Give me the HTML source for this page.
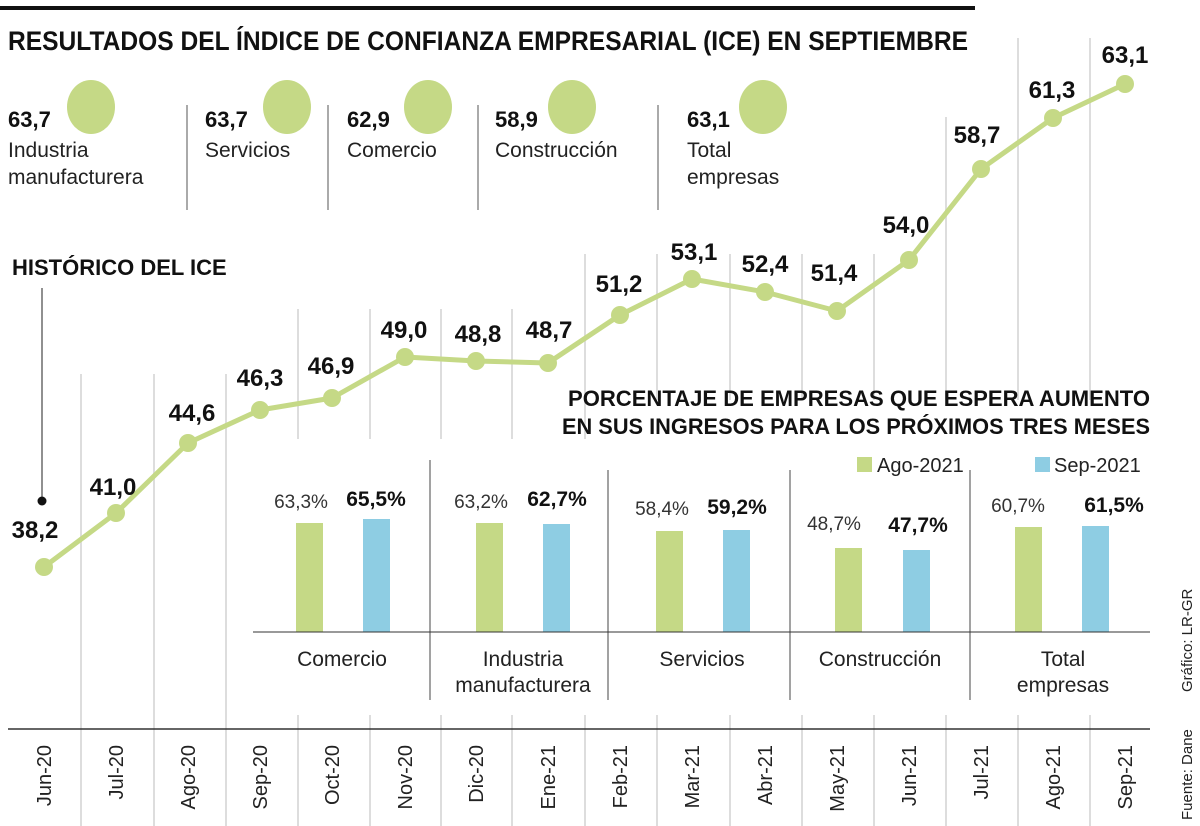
<!DOCTYPE html>
<html><head><meta charset="utf-8"><style>
body{margin:0;background:#fff}
svg{display:block}
text{font-family:"Liberation Sans",sans-serif}
.b{font-weight:bold}
</style></head><body>
<svg width="1200" height="826" viewBox="0 0 1200 826" xmlns="http://www.w3.org/2000/svg">
<rect width="1200" height="826" fill="#fff"/>
<line x1="0" y1="8" x2="975" y2="8" stroke="#111" stroke-width="4"/>
<text x="8" y="50" class="b" font-size="27" textLength="960" lengthAdjust="spacingAndGlyphs" fill="#111">RESULTADOS DEL ÍNDICE DE CONFIANZA EMPRESARIAL (ICE) EN SEPTIEMBRE</text>
<g stroke="#ddd" stroke-width="2">
<line x1="81" y1="374" x2="81" y2="826"/><line x1="154" y1="374" x2="154" y2="826"/><line x1="226" y1="374" x2="226" y2="826"/>
<line x1="298" y1="309" x2="298" y2="439"/><line x1="370" y1="309" x2="370" y2="439"/><line x1="441" y1="309" x2="441" y2="439"/><line x1="512" y1="309" x2="512" y2="439"/>
<line x1="585" y1="254" x2="585" y2="439"/>
<line x1="657" y1="254" x2="657" y2="400"/><line x1="730" y1="254" x2="730" y2="400"/><line x1="802" y1="254" x2="802" y2="400"/><line x1="874" y1="254" x2="874" y2="400"/>
<line x1="946" y1="117" x2="946" y2="400"/><line x1="1018" y1="38" x2="1018" y2="400"/><line x1="1090" y1="38" x2="1090" y2="400"/>
<line x1="298" y1="715" x2="298" y2="826"/><line x1="370" y1="715" x2="370" y2="826"/><line x1="441" y1="715" x2="441" y2="826"/><line x1="512" y1="715" x2="512" y2="826"/><line x1="585" y1="715" x2="585" y2="826"/><line x1="657" y1="715" x2="657" y2="826"/><line x1="730" y1="715" x2="730" y2="826"/><line x1="802" y1="715" x2="802" y2="826"/><line x1="874" y1="715" x2="874" y2="826"/><line x1="946" y1="715" x2="946" y2="826"/><line x1="1018" y1="715" x2="1018" y2="826"/><line x1="1090" y1="715" x2="1090" y2="826"/>
</g>
<g stroke="#555" stroke-width="1"><line x1="187" y1="105" x2="187" y2="210"/><line x1="328" y1="105" x2="328" y2="210"/><line x1="478" y1="105" x2="478" y2="210"/><line x1="658" y1="105" x2="658" y2="210"/></g>
<g fill="#c5d986"><ellipse cx="91" cy="107" rx="24" ry="27"/><ellipse cx="287" cy="107" rx="24" ry="27"/><ellipse cx="428" cy="107" rx="24" ry="27"/><ellipse cx="572" cy="107" rx="24" ry="27"/><ellipse cx="763" cy="107" rx="24" ry="27"/></g>
<g class="b" font-size="22" fill="#111"><text x="8" y="127">63,7</text><text x="205" y="127">63,7</text><text x="347" y="127">62,9</text><text x="495" y="127">58,9</text><text x="687" y="127">63,1</text></g>
<g font-size="21" fill="#222"><text x="8" y="157">Industria</text><text x="8" y="184">manufacturera</text><text x="205" y="157">Servicios</text><text x="347" y="157">Comercio</text><text x="495" y="157">Construcción</text><text x="687" y="157">Total</text><text x="687" y="184">empresas</text></g>
<text x="12" y="275" class="b" font-size="22" fill="#111">HISTÓRICO DEL ICE</text>
<line x1="42" y1="288" x2="42" y2="500" stroke="#222" stroke-width="1"/>
<circle cx="42" cy="501" r="4.5" fill="#111"/>
<polyline fill="none" stroke="#c5d986" stroke-width="5" stroke-linejoin="round" points="44,567 116,513 188,443 260,410 332,398 405,357 476,361 548,363 620,315 692,279 765,292 837,311 909,260 981,169 1053,118 1125,84"/>
<g fill="#c5d986"><circle cx="44" cy="567" r="9"/><circle cx="116" cy="513" r="9"/><circle cx="188" cy="443" r="9"/><circle cx="260" cy="410" r="9"/><circle cx="332" cy="398" r="9"/><circle cx="405" cy="357" r="9"/><circle cx="476" cy="361" r="9"/><circle cx="548" cy="363" r="9"/><circle cx="620" cy="315" r="9"/><circle cx="692" cy="279" r="9"/><circle cx="765" cy="292" r="9"/><circle cx="837" cy="311" r="9"/><circle cx="909" cy="260" r="9"/><circle cx="981" cy="169" r="9"/><circle cx="1053" cy="118" r="9"/><circle cx="1125" cy="84" r="9"/></g>
<g class="b" font-size="24" fill="#111" text-anchor="middle">
<text x="35" y="538">38,2</text><text x="113" y="495">41,0</text><text x="192" y="421">44,6</text><text x="260" y="386">46,3</text><text x="331" y="374">46,9</text><text x="404" y="338">49,0</text><text x="478" y="342">48,8</text><text x="549" y="338">48,7</text><text x="619" y="292">51,2</text><text x="694" y="260">53,1</text><text x="765" y="272">52,4</text><text x="834" y="281">51,4</text><text x="906" y="233">54,0</text><text x="977" y="143">58,7</text><text x="1052" y="98">61,3</text><text x="1125" y="63">63,1</text>
</g>
<text x="1150" y="406" text-anchor="end" class="b" font-size="22" textLength="582" lengthAdjust="spacingAndGlyphs" fill="#111">PORCENTAJE DE EMPRESAS QUE ESPERA AUMENTO</text>
<text x="1150" y="434" text-anchor="end" class="b" font-size="22" textLength="588" lengthAdjust="spacingAndGlyphs" fill="#111">EN SUS INGRESOS PARA LOS PRÓXIMOS TRES MESES</text>
<rect x="857" y="457" width="15" height="15" fill="#c5d986"/><text x="877" y="472" font-size="20" fill="#222">Ago-2021</text>
<rect x="1035" y="457" width="15" height="15" fill="#8ecde3"/><text x="1054" y="472" font-size="20" fill="#222">Sep-2021</text>
<g stroke="#444" stroke-width="1"><line x1="430" y1="460" x2="430" y2="700"/><line x1="608" y1="470" x2="608" y2="700"/><line x1="790" y1="470" x2="790" y2="700"/><line x1="970" y1="470" x2="970" y2="700"/></g>
<g fill="#c5d986"><rect x="296" y="523" width="27" height="109"/><rect x="476" y="523" width="27" height="109"/><rect x="656" y="531" width="27" height="101"/><rect x="835" y="548" width="27" height="84"/><rect x="1015" y="527" width="27" height="105"/></g>
<g fill="#8ecde3"><rect x="363" y="519" width="27" height="113"/><rect x="543" y="524" width="27" height="108"/><rect x="723" y="530" width="27" height="102"/><rect x="903" y="550" width="27" height="82"/><rect x="1082" y="526" width="27" height="106"/></g>
<line x1="253" y1="632" x2="1150" y2="632" stroke="#333" stroke-width="1"/>
<g font-size="19" fill="#333" text-anchor="middle"><text x="301" y="508">63,3%</text><text x="481" y="508">63,2%</text><text x="662" y="515">58,4%</text><text x="834" y="530">48,7%</text><text x="1018" y="512">60,7%</text></g>
<g class="b" font-size="21" fill="#111" text-anchor="middle"><text x="376" y="506">65,5%</text><text x="557" y="506">62,7%</text><text x="737" y="514">59,2%</text><text x="918" y="532">47,7%</text><text x="1114" y="512">61,5%</text></g>
<g font-size="21" fill="#222" text-anchor="middle"><text x="342" y="666">Comercio</text><text x="523" y="666">Industria</text><text x="523" y="692">manufacturera</text><text x="702" y="666">Servicios</text><text x="880" y="666">Construcción</text><text x="1063" y="666">Total</text><text x="1063" y="692">empresas</text></g>
<line x1="8" y1="729" x2="1150" y2="729" stroke="#333" stroke-width="1.5"/>
<g font-size="20" fill="#222" text-anchor="end">
<text transform="translate(51,745) rotate(-90)">Jun-20</text><text transform="translate(123,745) rotate(-90)">Jul-20</text><text transform="translate(195,745) rotate(-90)">Ago-20</text><text transform="translate(267,745) rotate(-90)">Sep-20</text><text transform="translate(339,745) rotate(-90)">Oct-20</text><text transform="translate(412,745) rotate(-90)">Nov-20</text><text transform="translate(483,745) rotate(-90)">Dic-20</text><text transform="translate(555,745) rotate(-90)">Ene-21</text><text transform="translate(627,745) rotate(-90)">Feb-21</text><text transform="translate(699,745) rotate(-90)">Mar-21</text><text transform="translate(772,745) rotate(-90)">Abr-21</text><text transform="translate(844,745) rotate(-90)">May-21</text><text transform="translate(916,745) rotate(-90)">Jun-21</text><text transform="translate(988,745) rotate(-90)">Jul-21</text><text transform="translate(1060,745) rotate(-90)">Ago-21</text><text transform="translate(1132,745) rotate(-90)">Sep-21</text>
</g>
<g font-size="15" fill="#222" text-anchor="start"><text transform="translate(1192,692) rotate(-90)">Gráfico: LR-GR</text><text transform="translate(1192,820) rotate(-90)">Fuente: Dane</text></g>
</svg>
</body></html>
